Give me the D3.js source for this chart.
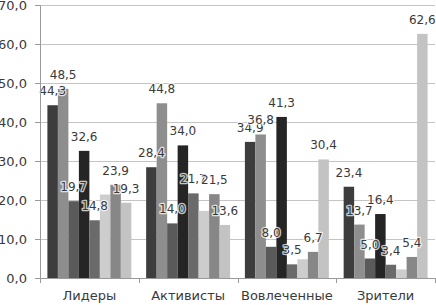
<!DOCTYPE html>
<html>
<head>
<meta charset="utf-8">
<script src="https://cdn.jsdelivr.net/npm/d3@7"></script>
<style>
  body { margin: 0; background: #fff; }
  text { font-family: "DejaVu Sans", sans-serif; fill: #3a3a3a; }
  .data-label { paint-order: stroke; stroke: rgba(255,255,255,0.75); stroke-width: 2.5px; stroke-linejoin: round; }
</style>
</head>
<body>
<div id="chart"></div>
<script>
// categories and series (8 series per group, 6th has no labels)
const categories = ['Лидеры', 'Активисты', 'Вовлеченные', 'Зрители'];
const s1 = [44.3, 28.4, 34.9, 23.4];
const s2 = [48.5, 44.8, 36.8, 13.7];
const s3 = [19.7, 14.0, 8.0, 5.0];
const s4 = [32.6, 34.0, 41.3, 16.4];
const s5 = [14.8, 21.7, 3.5, 3.4];
const s6 = [21.4, 17.2, 4.8, 2.2];
const s7 = [23.9, 21.5, 6.7, 5.4];
const s8 = [19.3, 13.6, 30.4, 62.6];
const yTicks = [0, 10, 20, 30, 40, 50, 60, 70];

const series = [
  { values: s1, color: '#3d3d3d', label: true },
  { values: s2, color: '#8e8e8e', label: true },
  { values: s3, color: '#5a5a5a', label: true },
  { values: s4, color: '#252525', label: true },
  { values: s5, color: '#6a6a6a', label: true },
  { values: s6, color: '#cdcdcd', label: false },
  { values: s7, color: '#878787', label: true },
  { values: s8, color: '#c3c3c3', label: true }
];

const width = 436, height = 305;
const margin = { top: 5, right: 1, bottom: 27, left: 40 };
const innerW = width - margin.left - margin.right;
const innerH = height - margin.top - margin.bottom;

const svg = d3.select('#chart').append('svg')
  .attr('width', width)
  .attr('height', height);

const chart = svg.append('g')
  .attr('transform', `translate(${margin.left}, ${margin.top})`);

const x0 = d3.scaleBand().domain(categories).range([0, innerW]);
const pad = 7.4;
const x1 = d3.scaleBand().domain(d3.range(series.length)).range([pad, x0.bandwidth() - pad]);
const y = d3.scaleLinear().domain([0, 70]).range([innerH, 0]);

const fmt = v => d3.format('.1f')(v).replace('.', ',');

// gridlines
chart.append('g')
  .selectAll('line')
  .data(yTicks.slice(1))
  .enter().append('line')
  .attr('x1', -5).attr('x2', innerW)
  .attr('y1', d => Math.round(y(d)) + 0.5)
  .attr('y2', d => Math.round(y(d)) + 0.5)
  .attr('stroke', '#c4c4c4');

// bars
const groups = chart.append('g')
  .selectAll('g')
  .data(categories)
  .enter().append('g')
  .attr('transform', d => `translate(${x0(d)}, 0)`);

groups.selectAll('rect')
  .data((c, i) => series.map((s, j) => ({ j, v: s.values[i], color: s.color })))
  .enter().append('rect')
  .attr('x', d => x1(d.j))
  .attr('width', x1.bandwidth())
  .attr('y', d => y(d.v))
  .attr('height', d => innerH - y(d.v))
  .attr('fill', d => d.color);

// data labels (on top of all bars)
const labelLayer = chart.append('g');
categories.forEach((c, i) => {
  labelLayer.append('g')
    .attr('transform', `translate(${x0(c)}, 0)`)
    .selectAll('text')
    .data(series.map((s, j) => ({ j, v: s.values[i], show: s.label })).filter(d => d.show))
    .enter().append('text')
    .attr('class', 'data-label')
    .attr('x', d => x1(d.j) + x1.bandwidth() / 2)
    .attr('y', d => y(d.v) - 10)
    .attr('text-anchor', 'middle')
    .attr('font-size', 12)
    .text(d => fmt(d.v));
});

// y axis
const yAxis = d3.axisLeft(y).tickValues(yTicks).tickFormat(fmt).tickSize(5).tickPadding(8);
const yAxisGroup = chart.append('g')
  .attr('class', 'axis y-axis')
  .call(yAxis);
yAxisGroup.select('.domain').attr('stroke', '#9a9a9a');
yAxisGroup.selectAll('.tick line').attr('stroke', '#9a9a9a');
yAxisGroup.selectAll('.tick text').attr('font-size', 13).attr('fill', '#3a3a3a')
  .attr('font-family', '"DejaVu Sans", sans-serif');

// x axis
chart.append('line')
  .attr('x1', 0).attr('x2', innerW)
  .attr('y1', innerH + 0.5).attr('y2', innerH + 0.5)
  .attr('stroke', '#9a9a9a');

chart.append('g')
  .selectAll('line')
  .data(d3.range(categories.length + 1))
  .enter().append('line')
  .attr('x1', d => Math.round(d * x0.step()) + 0.5)
  .attr('x2', d => Math.round(d * x0.step()) + 0.5)
  .attr('y1', innerH).attr('y2', innerH + 5)
  .attr('stroke', '#9a9a9a');

chart.append('g')
  .selectAll('text')
  .data(categories)
  .enter().append('text')
  .attr('x', d => x0(d) + x0.bandwidth() / 2)
  .attr('y', innerH + 22)
  .attr('text-anchor', 'middle')
  .attr('font-size', 13)
  .text(d => d);
</script>
</body>
</html>
